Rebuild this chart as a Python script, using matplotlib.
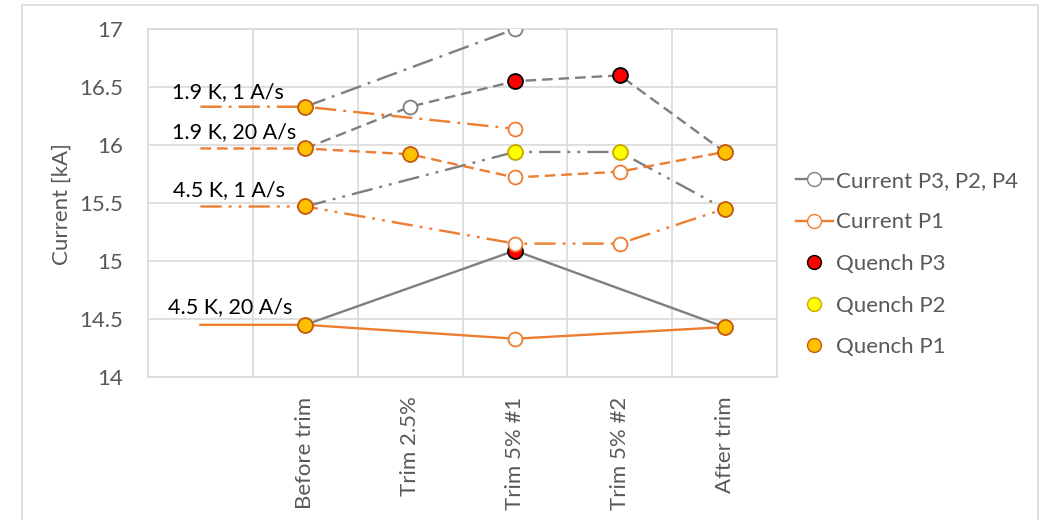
import matplotlib.pyplot as plt
import numpy as np
from matplotlib.lines import Line2D
from matplotlib.patches import Rectangle

plt.rcParams["font.family"] = ["Lato", "DejaVu Sans"]

nan = np.nan

categories = ["", "Before trim", "Trim 2.5%", "Trim 5% #1", "Trim 5% #2", "After trim"]

# current of the other poles (P3, P2, P4) per test condition
grey_19K_1 = [nan, 16.33, nan, 17.00, nan, nan]
grey_19K_20 = [nan, 15.97, 16.33, 16.55, 16.60, 15.94]
grey_45K_1 = [nan, 15.47, nan, 15.94, 15.94, 15.45]
grey_45K_20 = [nan, 14.45, nan, 15.09, nan, 14.43]

# current of pole P1 per test condition
p1_19K_1 = [16.33, 16.33, nan, 16.14, nan, nan]
p1_19K_20 = [15.97, 15.97, 15.92, 15.72, 15.77, 15.94]
p1_45K_1 = [15.47, 15.47, nan, 15.15, 15.15, 15.45]
p1_45K_20 = [14.45, 14.45, nan, 14.33, nan, 14.43]

# quench points: (category index, current)
quench_p3_x = [3, 4, 3]
quench_p3_y = [16.55, 16.60, 15.09]
quench_p2_x = [3, 4]
quench_p2_y = [15.94, 15.94]
quench_p1_x = [1, 1, 1, 1, 2, 5, 5, 5]
quench_p1_y = [16.33, 15.97, 15.47, 14.45, 15.92, 15.94, 15.45, 14.43]

conditions = ["1.9 K, 1 A/s", "1.9 K, 20 A/s", "4.5 K, 1 A/s", "4.5 K, 20 A/s"]
label_pos = [(-0.27, 16.46), (-0.27, 16.11), (-0.26, 15.61), (-0.31, 14.60)]

GREY = "#7F7F7F"
ORANGE = "#ED7D31"
LW = 1.7
FS = 16
styles = [
    (0, (9, 3, 1.2, 3)),          # long dash dot
    (0, (4.5, 2.5)),              # dashed
    (0, (9, 3, 1.2, 3, 1.2, 3)),  # long dash dot dot
    "-",
]


def draw_series(ax, values, color, ls, z, skip_first=False):
    x = np.arange(len(values))
    y = np.array(values, dtype=float)
    ok = ~np.isnan(y)
    xs, ys = x[ok], y[ok]
    ax.plot(xs, ys, color=color, lw=LW, linestyle=ls, zorder=z)
    mx, my = (xs[1:], ys[1:]) if skip_first else (xs, ys)
    ax.plot(mx, my, linestyle="none", marker="o", ms=10, mfc="white",
            mec=color, mew=1.3, zorder=z)


fig = plt.figure(figsize=(10.49, 5.20), dpi=100)
fig.patches.append(Rectangle((22 / 1049, -0.1), (1038 - 22) / 1049, 1.1 - 5 / 520,
                             transform=fig.transFigure, fill=False,
                             edgecolor="#D9D9D9", lw=1.2))
ax = fig.add_axes([148 / 1049, 1 - 377 / 520, (777 - 148) / 1049, (377 - 29) / 520])

greys = [grey_19K_1, grey_19K_20, grey_45K_1, grey_45K_20]
p1s = [p1_19K_1, p1_19K_20, p1_45K_1, p1_45K_20]

for vals, ls in zip(greys, styles):
    draw_series(ax, vals, GREY, ls, 3)

ax.scatter(quench_p3_x, quench_p3_y, s=115, c="#FF0000", edgecolors="black",
           linewidths=1.3, zorder=4)

for vals, ls in zip(p1s, styles):
    draw_series(ax, vals, ORANGE, ls, 5, skip_first=True)

ax.scatter(quench_p2_x, quench_p2_y, s=115, c="#FFFF00", edgecolors="#C9A900",
           linewidths=1.3, zorder=6)
ax.scatter(quench_p1_x, quench_p1_y, s=115, c="#FFC000", edgecolors="#C55A11",
           linewidths=1.3, zorder=7)

for text, (tx, ty) in zip(conditions, label_pos):
    ax.text(tx, ty, text, fontsize=15.5, color="black", ha="left", va="center", zorder=8)

ax.set_xlim(-0.5, len(categories) - 0.5)
ax.set_ylim(14, 17)
ax.set_yticks(np.arange(14, 17.01, 0.5))
ax.set_yticklabels(["14", "14.5", "15", "15.5", "16", "16.5", "17"])
ax.set_xticks(range(len(categories)))
ax.set_xticklabels(categories, rotation=90, va="top", ha="center")
ax.set_xticks(np.arange(0.5, len(categories) - 0.5), minor=True)
ax.tick_params(axis="both", which="both", length=0, labelsize=FS, labelcolor="#595959")
ax.tick_params(axis="x", pad=14)
ax.tick_params(axis="y", pad=18)
ax.grid(axis="y", color="#D9D9D9", lw=1.2, zorder=0)
ax.grid(axis="x", which="minor", color="#D9D9D9", lw=1.2, zorder=0)
for sp in ax.spines.values():
    sp.set_color("#D9D9D9")
    sp.set_linewidth(1.2)

fig.text(62 / 1049, 1 - 204 / 520, "Current [kA]", rotation=90, ha="center",
         va="center", fontsize=FS, color="#595959")

handles = [
    Line2D([], [], color=GREY, lw=LW, marker="o", ms=10, mfc="white", mec=GREY),
    Line2D([], [], color=ORANGE, lw=LW, marker="o", ms=10, mfc="white", mec=ORANGE),
    Line2D([], [], ls="none", marker="o", ms=10, mfc="#FF0000", mec="black"),
    Line2D([], [], ls="none", marker="o", ms=10, mfc="#FFFF00", mec="#C9A900"),
    Line2D([], [], ls="none", marker="o", ms=10, mfc="#FFC000", mec="#C55A11"),
]
labels = ["Current P3, P2, P4", "Current P1", "Quench P3", "Quench P2", "Quench P1"]
fig.legend(handles, labels, loc="center left", bbox_to_anchor=(776 / 1049, 1 - 264 / 520),
           frameon=False, fontsize=FS, labelcolor="#595959", handlelength=1.65,
           handletextpad=0.15, labelspacing=0.97)

fig.savefig("out.png", dpi=100)
